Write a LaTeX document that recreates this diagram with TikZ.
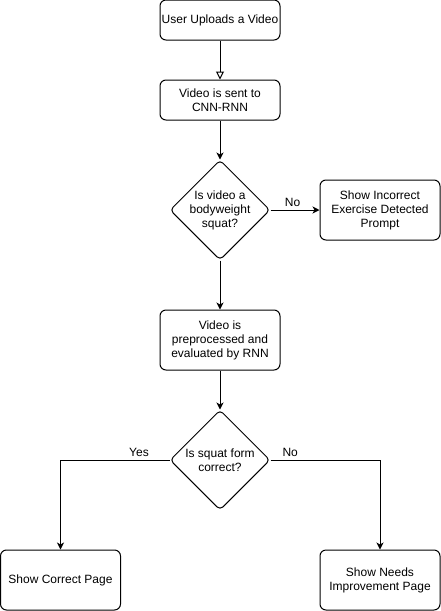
\documentclass[tikz,border=0pt]{standalone}
\usepackage{fontspec}
\setmainfont{Liberation Sans}
\usetikzlibrary{shapes.geometric,arrows.meta}

\begin{document}
\begin{tikzpicture}[x=1pt, y=-1pt, line width=1pt,
    every node/.style={font=\fontsize{12}{14}\selectfont, align=center},
    stepbox/.style={draw, rounded corners=6pt, minimum width=120pt, inner sep=0pt},
    decision/.style={draw, diamond, aspect=1, rounded corners=4pt, minimum width=100pt, minimum height=100pt, inner sep=0pt},
    flow/.style={-{Stealth[length=7pt, width=7pt, inset=2pt]}}]
  % Fixed frame matching the page
  \useasboundingbox (0,0) rectangle (441,611);
  \pgfmathsetmacro{\midX}{220} % The main column
  
  % Main column of steps
  \node[stepbox, minimum height=40pt] (upload) at (\midX,20) {User Uploads a Video};
  \node[stepbox, minimum height=40pt] (send) at (\midX,100) {Video is sent to\\CNN-RNN};
  \node[decision] (isSquat) at (\midX,210) {Is video a\\bodyweight\\squat?};
  \node[stepbox, minimum height=60pt] (wrongEx) at (380,210) {Show Incorrect\\Exercise Detected\\Prompt};
  \node[stepbox, minimum height=60pt] (evaluate) at (\midX,340) {Video is\\preprocessed and\\evaluated by RNN};
  \node[decision] (isCorrect) at (\midX,460) {Is squat form\\correct?};
  
  % Result pages
  \node[stepbox, minimum height=60pt] (correctPage) at (60.5,580) {Show Correct Page};
  \node[stepbox, minimum height=60pt] (improvePage) at (380,580) {Show Needs\\Improvement Page};
  
  % Connectors
  \draw[-{Triangle[open, length=8pt, width=8pt]}] (upload) -- (send);
  \draw[flow] (send) -- (isSquat);
  \draw[flow] (isSquat) -- node[above, pos=0.45] {No} (wrongEx);
  \draw[flow] (isSquat) -- (evaluate);
  \draw[flow] (evaluate) -- (isCorrect);
  \draw[flow] (isCorrect.west) -| node[above, pos=0.14] {Yes} (correctPage.north);
  \draw[flow] (isCorrect.east) -| node[above, pos=0.09] {No} (improvePage.north);
\end{tikzpicture}
\end{document}
